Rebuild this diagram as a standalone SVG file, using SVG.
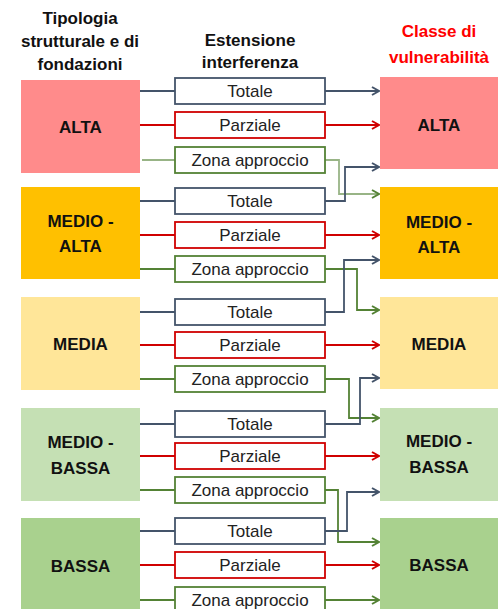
<svg xmlns="http://www.w3.org/2000/svg" width="498" height="609" viewBox="0 0 498 609">
<style>
.hd{font-family:"Liberation Sans",Arial,sans-serif;font-weight:bold;font-size:17px;text-anchor:middle;fill:#111}
.red{fill:#ff0000}
.lb{font-family:"Liberation Sans",Arial,sans-serif;font-weight:bold;font-size:17px;text-anchor:middle;fill:#111}
.mt{font-family:"Liberation Sans",Arial,sans-serif;font-size:17px;text-anchor:middle;fill:#222}
.bx{fill:#fff;stroke-width:1.8}
.cd{stroke:#44546a}
.cr{stroke:#d00000}
.cg{stroke:#548235}
.ln{fill:none;stroke-width:1.8}
</style>
<defs>
<marker id="ad" markerWidth="10" markerHeight="10" refX="8" refY="5" orient="auto" markerUnits="userSpaceOnUse"><path d="M1,1 L8,5 L1,9" fill="none" stroke="#44546a" stroke-width="2"/></marker>
<marker id="ar" markerWidth="10" markerHeight="10" refX="8" refY="5" orient="auto" markerUnits="userSpaceOnUse"><path d="M1,1 L8,5 L1,9" fill="none" stroke="#d00000" stroke-width="2"/></marker>
<marker id="ag" markerWidth="10" markerHeight="10" refX="8" refY="5" orient="auto" markerUnits="userSpaceOnUse"><path d="M1,1 L8,5 L1,9" fill="none" stroke="#548235" stroke-width="2"/></marker>
</defs>
<rect width="498" height="609" fill="#fff"/>

<g id="headers">
<text class="hd" x="80" y="24">Tipologia</text>
<text class="hd" x="80" y="47">strutturale e di</text>
<text class="hd" x="80" y="70">fondazioni</text>
<text class="hd" x="250" y="46">Estensione</text>
<text class="hd" x="250" y="68">interferenza</text>
<text class="hd red" x="439" y="37">Classe di</text>
<text class="hd red" x="439" y="63">vulnerabilità</text>
</g>

<g id="connectors">
<path class="ln cd" d="M140,91H175"/><path class="ln cr" d="M140,125H175"/><path class="ln cg" stroke-opacity="0.6" d="M142,160H175"/>
<path class="ln cd" d="M140,201H175"/><path class="ln cr" d="M140,235H175"/><path class="ln cg" d="M140,269H175"/>
<path class="ln cd" d="M140,312H175"/><path class="ln cr" d="M140,345H175"/><path class="ln cg" d="M140,379H175"/>
<path class="ln cd" d="M140,424H175"/><path class="ln cr" d="M140,456H175"/><path class="ln cg" d="M140,490H175"/>
<path class="ln cd" d="M140,531H175"/><path class="ln cr" d="M140,565H175"/><path class="ln cg" d="M140,600H175"/>
<path class="ln cd" d="M325,91H379" marker-end="url(#ad)"/>
<path class="ln cr" d="M325,125H379" marker-end="url(#ar)"/>
<path class="ln cg" stroke-opacity="0.6" d="M325,160H339V194H379" marker-end="url(#ag)"/>
<path class="ln cd" d="M325,201H345V167H379" marker-end="url(#ad)"/>
<path class="ln cr" d="M325,235H379" marker-end="url(#ar)"/>
<path class="ln cg" d="M325,269H357V310H379" marker-end="url(#ag)"/>
<path class="ln cd" d="M325,312H344V260H379" marker-end="url(#ad)"/>
<path class="ln cr" d="M325,345H379" marker-end="url(#ar)"/>
<path class="ln cg" d="M325,379H349V418H379" marker-end="url(#ag)"/>
<path class="ln cd" d="M325,424H360V378H379" marker-end="url(#ad)"/>
<path class="ln cr" d="M325,456H379" marker-end="url(#ar)"/>
<path class="ln cg" d="M325,490H338V542H379" marker-end="url(#ag)"/>
<path class="ln cd" d="M325,531H347V492H379" marker-end="url(#ad)"/>
<path class="ln cr" d="M325,565H379" marker-end="url(#ar)"/>
<path class="ln cg" d="M325,600H379" marker-end="url(#ag)"/>
</g>

<g id="tip-alta"><rect x="21" y="80" width="119" height="93" fill="#ff8b8b"/><text class="lb" x="80.5" y="133">ALTA</text></g>
<g id="tip-medio-alta"><rect x="21" y="187" width="119" height="92" fill="#ffc000"/><text class="lb" x="80.5" y="227">MEDIO -</text><text class="lb" x="80.5" y="252">ALTA</text></g>
<g id="tip-media"><rect x="21" y="297" width="119" height="93" fill="#ffe699"/><text class="lb" x="80.5" y="350">MEDIA</text></g>
<g id="tip-medio-bassa"><rect x="21" y="408" width="119" height="93" fill="#c5e0b4"/><text class="lb" x="80.5" y="448">MEDIO -</text><text class="lb" x="80.5" y="474">BASSA</text></g>
<g id="tip-bassa"><rect x="21" y="518" width="119" height="93" fill="#a9d18e"/><text class="lb" x="80.5" y="572">BASSA</text></g>

<g id="g1-totale"><rect class="bx cd" x="175" y="78" width="150" height="26"/><text class="mt" x="250" y="97">Totale</text></g>
<g id="g1-parziale"><rect class="bx cr" x="175" y="112" width="150" height="26"/><text class="mt" x="250" y="131">Parziale</text></g>
<g id="g1-zona"><rect class="bx cg" x="175" y="147" width="150" height="26"/><text class="mt" x="250" y="166">Zona approccio</text></g>
<g id="g2-totale"><rect class="bx cd" x="175" y="188" width="150" height="26"/><text class="mt" x="250" y="207">Totale</text></g>
<g id="g2-parziale"><rect class="bx cr" x="175" y="222" width="150" height="26"/><text class="mt" x="250" y="241">Parziale</text></g>
<g id="g2-zona"><rect class="bx cg" x="175" y="256" width="150" height="26"/><text class="mt" x="250" y="275">Zona approccio</text></g>
<g id="g3-totale"><rect class="bx cd" x="175" y="299" width="150" height="26"/><text class="mt" x="250" y="318">Totale</text></g>
<g id="g3-parziale"><rect class="bx cr" x="175" y="332" width="150" height="26"/><text class="mt" x="250" y="351">Parziale</text></g>
<g id="g3-zona"><rect class="bx cg" x="175" y="366" width="150" height="26"/><text class="mt" x="250" y="385">Zona approccio</text></g>
<g id="g4-totale"><rect class="bx cd" x="175" y="411" width="150" height="26"/><text class="mt" x="250" y="430">Totale</text></g>
<g id="g4-parziale"><rect class="bx cr" x="175" y="443" width="150" height="26"/><text class="mt" x="250" y="462">Parziale</text></g>
<g id="g4-zona"><rect class="bx cg" x="175" y="477" width="150" height="26"/><text class="mt" x="250" y="496">Zona approccio</text></g>
<g id="g5-totale"><rect class="bx cd" x="175" y="518" width="150" height="26"/><text class="mt" x="250" y="537">Totale</text></g>
<g id="g5-parziale"><rect class="bx cr" x="175" y="552" width="150" height="26"/><text class="mt" x="250" y="571">Parziale</text></g>
<g id="g5-zona"><rect class="bx cg" x="175" y="587" width="150" height="26"/><text class="mt" x="250" y="606">Zona approccio</text></g>

<g id="cls-alta"><rect x="380" y="77" width="118" height="92" fill="#ff8b8b"/><text class="lb" x="439" y="131">ALTA</text></g>
<g id="cls-medio-alta"><rect x="380" y="187" width="118" height="92" fill="#ffc000"/><text class="lb" x="439" y="228">MEDIO -</text><text class="lb" x="439" y="253">ALTA</text></g>
<g id="cls-media"><rect x="380" y="297" width="118" height="92" fill="#ffe699"/><text class="lb" x="439" y="350">MEDIA</text></g>
<g id="cls-medio-bassa"><rect x="380" y="408" width="118" height="93" fill="#c5e0b4"/><text class="lb" x="439" y="447">MEDIO -</text><text class="lb" x="439" y="473">BASSA</text></g>
<g id="cls-bassa"><rect x="380" y="518" width="118" height="93" fill="#a9d18e"/><text class="lb" x="439" y="571">BASSA</text></g>
</svg>
